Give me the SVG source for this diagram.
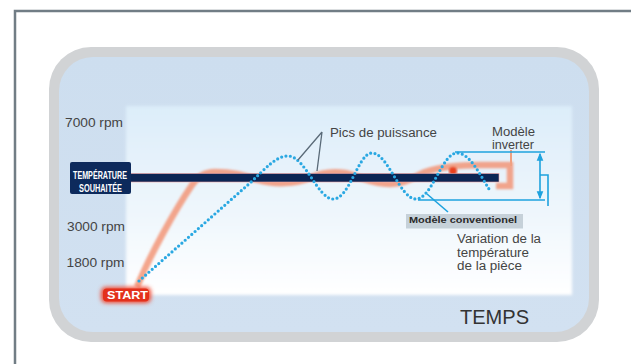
<svg xmlns="http://www.w3.org/2000/svg" width="631" height="364" viewBox="0 0 631 364">
<defs>
<style>
.lbl{font-family:"Liberation Sans",Arial,sans-serif;fill:#444;font-size:12px}
.temps{font-size:21px;fill:#333}
.wb{font-family:"Liberation Sans",Arial,sans-serif;fill:#fff;font-weight:bold}
.br{stroke:#1ea2de;stroke-width:1.6;fill:none}
</style>
<linearGradient id="chart" x1="0" y1="0" x2="0" y2="1">
<stop offset="0" stop-color="#dcedf9"/>
<stop offset="0.55" stop-color="#eef6fc"/>
<stop offset="1" stop-color="#ffffff"/>
</linearGradient>
<linearGradient id="panel" x1="0" y1="0" x2="0" y2="1">
<stop offset="0" stop-color="#cddeef"/>
<stop offset="1" stop-color="#d2e1f1"/>
</linearGradient>
<filter id="blur" x="-10%" y="-20%" width="120%" height="140%"><feGaussianBlur stdDeviation="1.3"/></filter>
<filter id="glow" x="-30%" y="-60%" width="160%" height="220%"><feGaussianBlur stdDeviation="2"/></filter>
<filter id="soft" x="-5%" y="-5%" width="110%" height="110%"><feGaussianBlur stdDeviation="1.5"/></filter>
<marker id="ah" viewBox="0 0 6 6" refX="5" refY="3" markerWidth="5" markerHeight="5" orient="auto-start-reverse">
<path d="M0,0.5 L6,3 L0,5.5 Z" fill="#1ea2de"/>
</marker>
</defs>
<rect width="631" height="364" fill="#fff"/>
<path d="M15,364 V11 H631" fill="none" stroke="#717d85" stroke-width="2.5"/>
<g id="panel-frame">
<rect x="49" y="47" width="550" height="295" rx="42" fill="#d1d3d5"/>
<rect x="59" y="57" width="530" height="275" rx="34" fill="url(#panel)"/>
<rect x="126" y="106" width="446" height="189" fill="url(#chart)" filter="url(#soft)"/>
</g>
<g id="axis-labels">
<text class="lbl" x="65" y="127" textLength="58" lengthAdjust="spacingAndGlyphs">7000 rpm</text>
<text class="lbl" x="67" y="230.5" textLength="58" lengthAdjust="spacingAndGlyphs">3000 rpm</text>
<text class="lbl" x="66.5" y="267" textLength="58" lengthAdjust="spacingAndGlyphs">1800 rpm</text>
<text class="lbl temps" x="460" y="324" textLength="69" lengthAdjust="spacingAndGlyphs">TEMPS</text>
</g>
<g id="curves">
<path d="M137,287 C150,255 175,210 192,185 C198,176 205,172 215,172 C235,172 245,176 258,180 C275,185 295,184 310,178 C320,173 330,171 345,173 C360,176 370,184 390,184 C405,184 412,178 425,172 C440,167 460,165 480,165 L510,165 L510,186 L496,186" fill="none" stroke="#f29070" stroke-width="6.5" stroke-opacity="0.8" filter="url(#blur)"/>
<path d="M511,150 V166" stroke="#f0a080" stroke-width="2" fill="none"/>
<circle cx="453" cy="171" r="4" fill="#e8401e" filter="url(#blur)"/>
</g>
<g id="target-bar">
<rect x="128" y="173.5" width="371" height="8.5" fill="#0b2554" stroke="#f2a0a0" stroke-width="0.6"/>
</g>
<g id="temperature-label">
<rect x="70" y="162" width="61" height="32" rx="2" fill="#0d2a5c"/>
<text class="wb" x="73" y="178.5" font-size="10" textLength="54" lengthAdjust="spacingAndGlyphs">TEMPÉRATURE</text>
<text class="wb" x="79" y="191.5" font-size="10" textLength="43" lengthAdjust="spacingAndGlyphs">SOUHAITÉE</text>
</g>
<g id="dotted">
<path d="M139,281 L250,183 C266,168 276,156 288,156 C305,156 318,199 333,199 C350,199 358,153 372,153 C388,153 400,199 416,199 C432,199 442,153 457,153 C470,153 480,175 489,189" fill="none" stroke="#2aa8e2" stroke-width="3.2" stroke-linecap="round" stroke-dasharray="0 4.4"/>
</g>
<g id="connectors">
<path d="M322,132 L298,160 M322,132 L317,171" stroke="#5a6a78" stroke-width="1.3" fill="none"/>
<path class="br" d="M455,152 H545 M418,200 H545"/>
<path class="br" d="M540,154 V198" marker-start="url(#ah)" marker-end="url(#ah)"/>
<path class="br" d="M540,175 H548 V206"/>
<path class="br" d="M448,212 L427,194"/>
</g>
<g id="pics-label">
<text class="lbl" x="330" y="137" textLength="107" lengthAdjust="spacingAndGlyphs">Pics de puissance</text>
</g>
<g id="inverter-label">
<text class="lbl" x="492" y="136" textLength="43" lengthAdjust="spacingAndGlyphs">Modèle</text>
<text class="lbl" x="492" y="148.5" textLength="42" lengthAdjust="spacingAndGlyphs">inverter</text>
</g>
<g id="conventionnel-label">
<rect x="406" y="214" width="117" height="14.5" fill="#c6d1d9"/>
<text x="409" y="222.5" font-family="Liberation Sans,Arial,sans-serif" font-weight="bold" font-size="9" fill="#2a2a2a" textLength="108" lengthAdjust="spacingAndGlyphs">Modèle conventionel</text>
</g>
<g id="variation-label">
<text class="lbl" x="457" y="243.3" textLength="84" lengthAdjust="spacingAndGlyphs">Variation de la</text>
<text class="lbl" x="457" y="256.7" textLength="72" lengthAdjust="spacingAndGlyphs">température</text>
<text class="lbl" x="457" y="270" textLength="65" lengthAdjust="spacingAndGlyphs">de la pièce</text>
</g>
<g id="start">
<rect x="101" y="287" width="50" height="16" rx="5" fill="#f04a30" filter="url(#glow)"/>
<rect x="103" y="288.5" width="46" height="13" rx="4" fill="#e3301c"/>
<text class="wb" x="107" y="299" font-size="11" textLength="41" lengthAdjust="spacingAndGlyphs">START</text>
</g>
</svg>
